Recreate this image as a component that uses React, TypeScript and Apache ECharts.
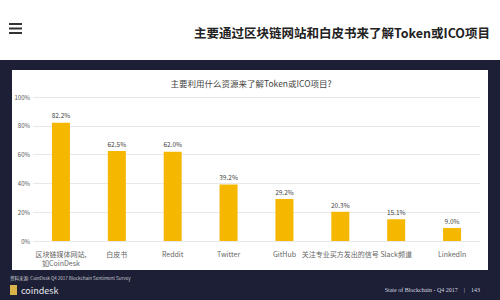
import React, { useEffect, useRef } from "react";
import * as echarts from "echarts";

const categories = [
  "区块链媒体网站,\n如CoinDesk",
  "白皮书",
  "Reddit",
  "Twitter",
  "GitHub",
  "关注专业买方发出的信号",
  "Slack频道",
  "LinkedIn",
];
const values = [82.2, 62.5, 62.0, 39.2, 29.2, 20.3, 15.1, 9.0];
const yTicks = [0, 20, 40, 60, 80, 100];

const pageTitle = "主要通过区块链网站和白皮书来了解Token或ICO项目";
const chartTitle = "主要利用什么资源来了解Token或ICO项目?";
const sourceText = "资料来源: CoinDesk Q4 2017 Blockchain Sentiment Survey";
const footerRight = "State of Blockchain - Q4 2017    |    143";

export default function App() {
  const ref = useRef<HTMLDivElement>(null);
  useEffect(() => {
    if (!ref.current) return;
    const chart = echarts.init(ref.current, undefined, { renderer: "svg" });
    const font = "'Noto Sans CJK SC', 'Noto Sans', sans-serif";
    chart.setOption({
      animation: false,
      backgroundColor: "#ffffff",
      textStyle: { fontFamily: font },
      graphic: [
        { type: "rect", z: -10, shape: { x: 0, y: 60, width: 500, height: 240 }, style: { fill: "#1c1f35" } },
        { type: "rect", z: -9, shape: { x: 12, y: 70, width: 476, height: 200 }, style: { fill: "#ffffff" } },
        { type: "rect", shape: { x: 9, y: 23, width: 13, height: 2 }, style: { fill: "#333" } },
        { type: "rect", shape: { x: 9, y: 27.5, width: 13, height: 2 }, style: { fill: "#333" } },
        { type: "rect", shape: { x: 9, y: 32, width: 13, height: 2 }, style: { fill: "#333" } },
        {
          type: "text", x: 490, y: 32,
          style: { text: pageTitle, fill: "#222", font: `bold 12.5px ${font}`, textAlign: "right", textVerticalAlign: "middle" },
        },
        {
          type: "text", x: 251, y: 83,
          style: { text: chartTitle, fill: "#444", font: `8.5px ${font}`, textAlign: "center", textVerticalAlign: "middle" },
        },
        {
          type: "text", x: 10, y: 278,
          style: { text: sourceText, fill: "#c8c8d0", font: `4.5px ${font}`, textAlign: "left", textVerticalAlign: "middle" },
        },
        { type: "rect", shape: { x: 10, y: 285, width: 7, height: 10 }, style: { fill: "#d9b24a" } },
        {
          type: "text", x: 21, y: 290,
          style: { text: "coindesk", fill: "#e8e8ee", font: `9px ${font}`, textAlign: "left", textVerticalAlign: "middle" },
        },
        {
          type: "text", x: 480, y: 290,
          style: { text: footerRight, fill: "#d8d8e0", font: `6px serif`, textAlign: "right", textVerticalAlign: "middle" },
        },
      ],
      grid: { left: 33, right: 20, top: 97, bottom: 59, containLabel: false },
      xAxis: {
        type: "category",
        data: categories,
        axisLine: { show: false },
        axisTick: { show: false },
        axisLabel: { color: "#666", fontSize: 7, margin: 8, lineHeight: 9, interval: 0 },
      },
      yAxis: {
        type: "value",
        min: yTicks[0],
        max: yTicks[yTicks.length - 1],
        interval: 20,
        axisLine: { show: false },
        axisTick: { show: false },
        axisLabel: { color: "#555", fontSize: 6, formatter: "{value}%", margin: 3 },
        splitLine: { lineStyle: { color: "#e8e8e8", width: 1 } },
      },
      series: [
        {
          type: "bar",
          data: values,
          barWidth: 18,
          itemStyle: { color: "#f6b700" },
          label: {
            show: true,
            position: "top",
            color: "#444",
            fontSize: 6.5,
            distance: 4,
            formatter: (p: any) => `${Number(p.value).toFixed(1)}%`,
          },
        },
      ],
    });
    return () => chart.dispose();
  }, []);
  return (
    <div
      ref={ref}
      style={{ position: "fixed", left: 0, top: 0, width: 500, height: 300 }}
    />
  );
}
